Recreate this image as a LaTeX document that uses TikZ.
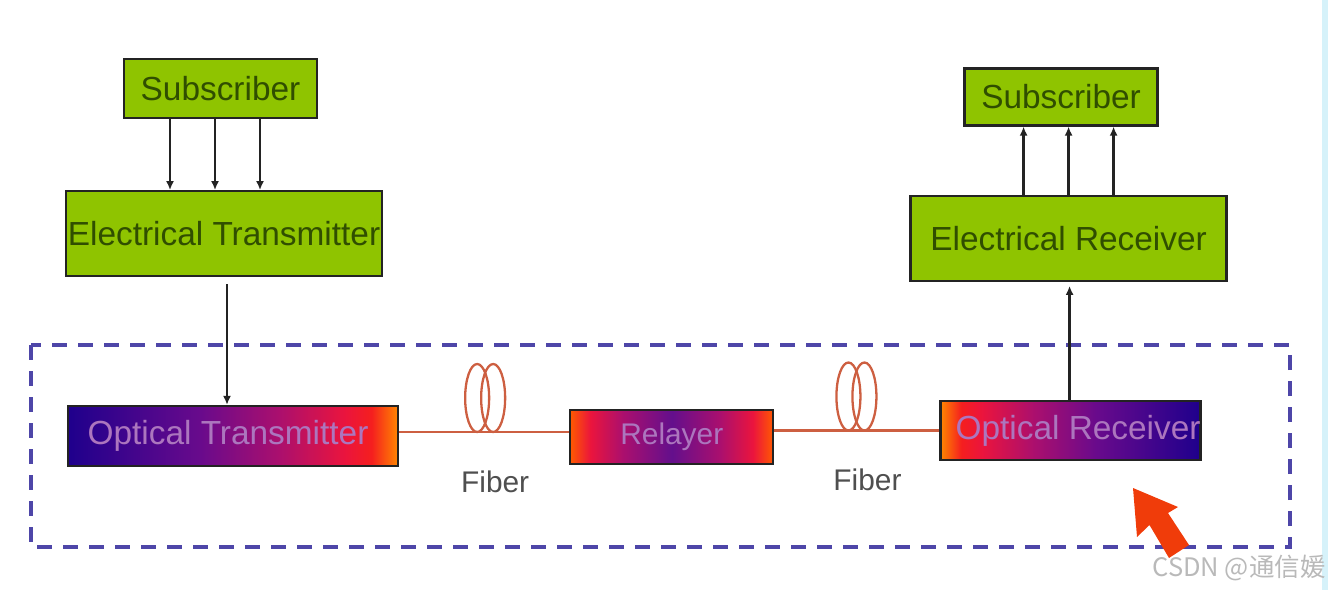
\documentclass[tikz,border=0pt]{standalone}
\usepackage{fontspec}
\usepackage{xcolor}
\setmainfont{Liberation Sans}
\newfontfamily\cjkfont{Noto Sans CJK SC}
\usetikzlibrary{arrows.meta,positioning,calc}
\definecolor{boxgreen}{RGB}{143,196,0}
\definecolor{textgreen}{RGB}{48,78,0}
\definecolor{linkdark}{RGB}{35,35,35}
\definecolor{fibercol}{RGB}{205,95,65}
\definecolor{framecol}{RGB}{78,70,168}
\definecolor{ghosttext}{RGB}{172,118,190}
\definecolor{pointred}{RGB}{240,60,10}
\definecolor{markgray}{RGB}{185,185,185}
\definecolor{edgeband}{RGB}{214,242,250}
\pgfdeclarehorizontalshading{opticalshade}{100bp}{
  rgb(0bp)=(0.12,0,0.55);
  rgb(25bp)=(0.12,0,0.55);
  rgb(45bp)=(0.41,0.04,0.55);
  rgb(57bp)=(0.67,0.06,0.43);
  rgb(67bp)=(0.92,0.08,0.24);
  rgb(71bp)=(0.96,0.12,0.12);
  rgb(75bp)=(1,0.53,0);
  rgb(100bp)=(1,0.53,0)}
\pgfdeclarehorizontalshading{relayshade}{100bp}{
  rgb(0bp)=(1,0.35,0);
  rgb(25bp)=(1,0.35,0);
  rgb(30bp)=(0.92,0.08,0.24);
  rgb(38bp)=(0.67,0.06,0.43);
  rgb(50bp)=(0.39,0.06,0.55);
  rgb(62bp)=(0.67,0.06,0.43);
  rgb(70bp)=(0.92,0.08,0.24);
  rgb(75bp)=(1,0.35,0);
  rgb(100bp)=(1,0.35,0)}
\begin{document}
\begin{tikzpicture}[>={Latex[length=1.8mm,width=1.6mm]},
  every node/.style={font=\fontsize{19}{22}\selectfont,inner sep=0pt},
  greenbox/.style={draw=linkdark,line width=1.3pt,fill=boxgreen,text=textgreen},
  opticbox/.style={draw=linkdark,line width=1.3pt,text=ghosttext},
  link/.style={->,draw=linkdark,line width=1.3pt},
  fiberline/.style={draw=fibercol,line width=1.3pt},
  fiberlabel/.style={font=\fontsize{17}{20}\selectfont,text=linkdark!80}]
\useasboundingbox (0,0) rectangle (26.56,-11.8);
\fill[edgeband] (26.44,0) rectangle (26.56,-11.8);
\draw[draw=framecol,line width=2.3pt,dash pattern=on 0.3cm off 0.22cm] (0.62,-6.9) rectangle (25.8,-10.94);
\node[opticbox,shading=opticalshade,minimum width=6.6cm,minimum height=1.2cm] (otx) at (4.66,-8.72) {Optical Transmitter\hspace*{0.2cm}};
\node[opticbox,shading=relayshade,right=3.4cm of otx,yshift=-0.02cm,minimum width=4.06cm,minimum height=1.08cm,font=\fontsize{17}{20}\selectfont] (relay) {Relayer};
\node[opticbox,shading=opticalshade,shading angle=180,right=3.3cm of relay,yshift=0.13cm,minimum width=5.2cm,minimum height=1.18cm] (orx) {\hspace*{0.3cm}Optical Receiver};
\node[greenbox,above=2.55cm of otx,xshift=-0.18cm,minimum width=6.32cm,minimum height=1.7cm] (etx) {Electrical Transmitter};
\node[greenbox,above=1.42cm of etx,xshift=-0.07cm,minimum width=3.86cm,minimum height=1.18cm] (subl) {Subscriber};
\node[greenbox,above=2.36cm of orx,xshift=-0.04cm,minimum width=6.32cm,minimum height=1.7cm] (erx) {Electrical Receiver};
\node[greenbox,above=1.36cm of erx,xshift=-0.15cm,minimum width=3.86cm,minimum height=1.14cm] (subr) {Subscriber};
% electrical side
\foreach \dx in {-1.01,-0.11,0.79}
  \draw[link] ([xshift=\dx cm]subl.south) -- ([xshift=\dx cm]subl.south |- etx.north);
\foreach \dx in {-0.75,0.15,1.05}
  \draw[link] ([xshift=\dx cm]subr.south |- erx.north) -- ([xshift=\dx cm]subr.south);
\draw[link,shorten <=0.14cm] ([xshift=0.06cm]etx.south) -- ([xshift=0.06cm]etx.south |- otx.north);
\draw[link,shorten >=0.08cm] ([xshift=-0.02cm]orx.north) -- ([xshift=-0.02cm]orx.north |- erx.south);
% fibers
\coordinate (fibera) at ([yshift=0.08cm]otx.east);
\coordinate (fiberb) at (orx.west -| relay.east);
\draw[fiberline] (fibera) -- (fibera -| relay.west);
\draw[fiberline] (fiberb) -- (orx.west);
\coordinate[right=1.72cm of fibera] (coila);
\coordinate[right=1.64cm of fiberb] (coilb);
\foreach \c in {coila,coilb} {
  \draw[fiberline] ([shift={(-0.16,0.68)}]\c) ellipse (0.24cm and 0.68cm);
  \draw[fiberline] ([shift={(0.16,0.68)}]\c) ellipse (0.24cm and 0.68cm);
}
\node[fiberlabel,below=0.76cm of coila,xshift=0.2cm] (labela) {Fiber};
\node[fiberlabel,below=0.76cm of coilb,xshift=0.22cm] (labelb) {Fiber};
% pointer
\fill[pointred] (22.66,-9.76) -- (23.56,-10.14) -- (23.36,-10.26) -- (23.78,-10.9) -- (23.38,-11.16) -- (22.99,-10.5) -- (22.74,-10.74) -- cycle;
\node[font=\cjkfont\fontsize{14.5}{17}\selectfont,text=markgray] (mark) at (24.78,-11.36) {CSDN @通信媛};
\end{tikzpicture}
\end{document}
